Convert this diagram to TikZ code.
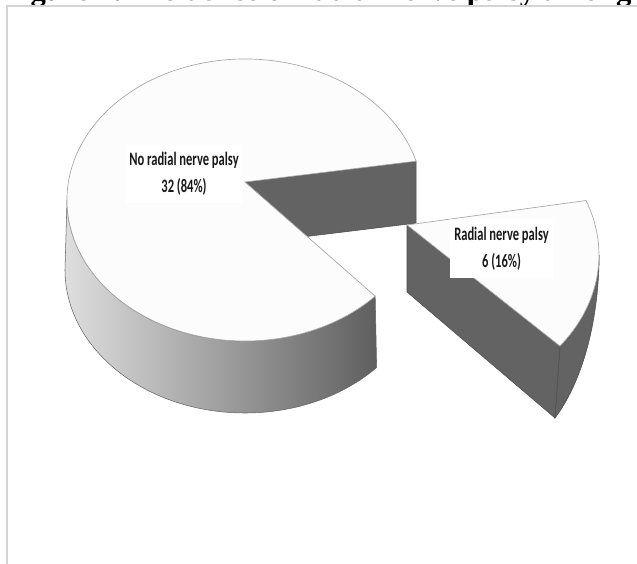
\documentclass[tikz,border=0pt]{standalone}
\usepackage{fontspec}
\setmainfont{Liberation Serif}
\newfontfamily\labelfont{Carlito}
\usepackage{graphicx}
\usepackage{tikz}
\definecolor{topwhite}{RGB}{252,252,252}
\definecolor{cutgray}{RGB}{99,99,99}
\definecolor{framegray}{RGB}{212,212,212}
\definecolor{rimlight}{RGB}{222,222,222}
\definecolor{rimdark}{RGB}{95,95,95}
\newcommand{\squeeze}[1]{\scalebox{0.66}[1]{#1}}
\tikzset{
  topface/.style={fill=topwhite, draw=gray!70, line width=0.5pt},
  cutface/.style={fill=cutgray, draw=black!70, line width=0.4pt},
  piebox/.style={fill=white, inner sep=0pt, align=center, text=black!90,
    font=\labelfont\bfseries\fontsize{14.25}{20}\selectfont},
}

\begin{document}
\begin{tikzpicture}[x=0.75pt, y=-0.75pt]
\useasboundingbox (0,0) rectangle (637,564);
\clip (0,0) rectangle (637,564);

% title, cut off at the top
\node [anchor=base west, inner sep=0pt, font=\bfseries\fontsize{23}{27}\selectfont] (title) at (3,0.5) {Figure 1: Incidence of radial nerve palsy among g};

% frame
\draw [framegray, line width=1pt] (7,570) -- (7,6) -- (645,6);

% big slice (84%)
\coordinate (C) at (245,182);
\coordinate (Cb) at (245,244);
\coordinate (P1) at ({245+178*cos(16)},{200-141*sin(16)});
\coordinate (P1b) at ({245+178*cos(16)},{262-141*sin(16)});
\coordinate (P2b) at ({245+180*cos(43)},{270+143*sin(43)});
\coordinate (L) at (67,200);
\draw [cutface] (C) -- (P1) -- (P1b) -- (Cb) -- cycle;
\draw [draw=black!60, line width=0.4pt, left color=rimlight, right color=rimdark] (L) arc[start angle=-180, end angle=-317, x radius=178, y radius=141] -- (P2b) arc[start angle=-317, end angle=-180, x radius=180, y radius=143] -- cycle;
\draw [topface] (C) -- (P1) arc[start angle=-16, end angle=-317, x radius=178, y radius=141] -- cycle;

% small slice (16%)
\coordinate (A) at (407,225);
\coordinate (Ab) at (407,292);
\coordinate (Q1) at ({409+190*cos(21.3)},{255-150*sin(21.3)});
\coordinate (Q2) at ({409+190*cos(37.4)},{255+150*sin(37.4)});
\coordinate (Q2b) at (555,418);
\coordinate (R) at (599,255);
\draw [cutface] (R) arc[start angle=0, end angle=37.4, x radius=190, y radius=150] -- (Q2b) .. controls (580,385) and (597,330) .. (599,265) -- cycle;
\draw [cutface] (A) -- (Q2) -- (Q2b) -- (Ab) -- cycle;
\draw [topface] (A) -- (Q1) arc[start angle=-21.3, end angle=37.4, x radius=190, y radius=150] -- cycle;

% labels
\node [piebox, minimum width=88.5pt, minimum height=43.5pt] (nolabel) at (184,174) {\squeeze{No radial nerve palsy}\\\squeeze{32 (84\%)}};
\node [piebox, minimum width=77.25pt, minimum height=44.25pt] (yeslabel) at (501.5,248.5) {\squeeze{Radial nerve palsy}\\\squeeze{6 (16\%)}};

\end{tikzpicture}
\end{document}
